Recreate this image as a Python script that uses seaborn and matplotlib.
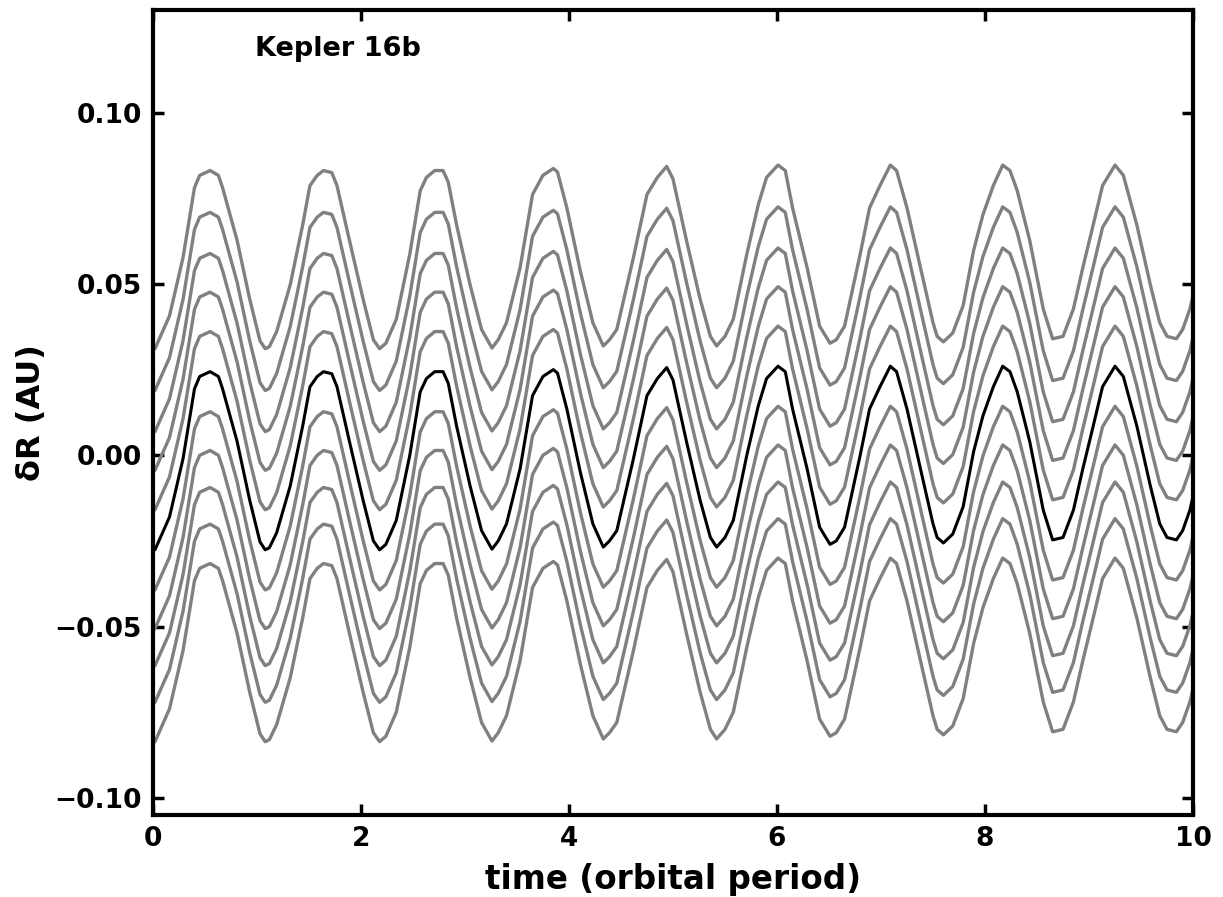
import numpy as np
import pandas as pd
import matplotlib
matplotlib.use("Agg")
import matplotlib.pyplot as plt
import seaborn as sns

# black curve (reference orbit)
t_ref = [0.00, 0.02, 0.16, 0.29, 0.40, 0.45, 0.55, 0.63, 0.67, 0.81, 0.93, 1.03, 1.08, 1.12,
         1.19, 1.32, 1.44, 1.51, 1.58, 1.64, 1.72, 1.77, 1.89, 2.02, 2.12, 2.18, 2.24, 2.34,
         2.47, 2.57, 2.63, 2.71, 2.79, 2.84, 2.92, 3.05, 3.16, 3.26, 3.32, 3.40, 3.53, 3.65,
         3.75, 3.85, 3.89, 3.98, 4.11, 4.23, 4.33, 4.39, 4.46, 4.62, 4.75, 4.85, 4.94, 5.00,
         5.13, 5.26, 5.36, 5.42, 5.50, 5.58, 5.71, 5.82, 5.90, 6.01, 6.08, 6.15, 6.29, 6.41,
         6.51, 6.57, 6.65, 6.80, 6.89, 6.99, 7.09, 7.15, 7.25, 7.38, 7.50, 7.54, 7.60, 7.69,
         7.79, 7.89, 7.98, 8.08, 8.17, 8.24, 8.31, 8.43, 8.56, 8.65, 8.75, 8.85, 8.94, 9.04,
         9.13, 9.25, 9.33, 9.46, 9.59, 9.68, 9.75, 9.84, 9.90, 9.97, 10.00]
dr_ref = [-0.0278, -0.0276, -0.0180, -0.0010, 0.0194, 0.0230, 0.0244, 0.0230, 0.0194, 0.0040,
          -0.0130, -0.0253, -0.0276, -0.0270, -0.0226, -0.0090, 0.0085, 0.0200, 0.0230, 0.0244,
          0.0238, 0.0200, 0.0040, -0.0130, -0.0250, -0.0276, -0.0260, -0.0190, 0.0000, 0.0185,
          0.0224, 0.0244, 0.0244, 0.0210, 0.0085, -0.0090, -0.0220, -0.0274, -0.0250, -0.0200,
          -0.0040, 0.0174, 0.0230, 0.0250, 0.0240, 0.0135, -0.0050, -0.0200, -0.0268, -0.0250,
          -0.0220, -0.0010, 0.0174, 0.0224, 0.0256, 0.0220, 0.0040, -0.0130, -0.0240, -0.0268,
          -0.0240, -0.0190, 0.0000, 0.0144, 0.0224, 0.0260, 0.0244, 0.0135, -0.0040, -0.0210,
          -0.0260, -0.0250, -0.0210, 0.0000, 0.0135, 0.0200, 0.0260, 0.0244, 0.0135, -0.0040,
          -0.0200, -0.0240, -0.0256, -0.0230, -0.0150, 0.0010, 0.0115, 0.0200, 0.0260, 0.0244,
          0.0185, 0.0040, -0.0160, -0.0247, -0.0240, -0.0160, -0.0040, 0.0085, 0.0200, 0.0260,
          0.0230, 0.0085, -0.0090, -0.0200, -0.0240, -0.0247, -0.0220, -0.0160, -0.0120]

# vertical offsets of the grey neighbouring orbits relative to the black one
offsets = [0.0587, 0.0465, 0.0345, 0.0232, 0.0117,
           -0.0117, -0.0230, -0.0338, -0.0445, -0.0560]

sns.set_theme(style="ticks")
plt.rcParams["font.family"] = ["DejaVu Sans"]
plt.rcParams["font.weight"] = "bold"
plt.rcParams["axes.labelweight"] = "bold"
plt.rcParams["text.color"] = "black"
plt.rcParams["axes.labelcolor"] = "black"
plt.rcParams["xtick.color"] = "black"
plt.rcParams["ytick.color"] = "black"

fig = plt.figure(figsize=(12.23, 8.97), dpi=100)
ax = fig.add_axes([0.125, 0.0914, 0.8505, 0.8976])

t = np.array(t_ref)
dr = np.array(dr_ref)
for off in offsets:
    sns.lineplot(x=t, y=dr + off, color="#808080", linewidth=2.4, ax=ax)
sns.lineplot(x=t, y=dr, color="black", linewidth=2.2, ax=ax)

ax.set_xlim(0, 10)
ax.set_ylim(-0.105, 0.13)
ax.set_xticks([0, 2, 4, 6, 8, 10])
ax.set_yticks([-0.10, -0.05, 0.00, 0.05, 0.10])
ax.set_yticklabels(["\u22120.10", "\u22120.05", "0.00", "0.05", "0.10"])
ax.tick_params(direction="in", length=8, width=2.5, top=True, right=True,
               labelsize=19, pad=8, colors="black")
for lab in ax.get_xticklabels() + ax.get_yticklabels():
    lab.set_fontweight("bold")
for sp in ax.spines.values():
    sp.set_linewidth(3)
    sp.set_color("black")

ax.set_xlabel("time (orbital period)", fontsize=23.5, fontweight="bold", labelpad=8)
ax.set_ylabel("\u03b4R (AU)", fontsize=23, fontweight="bold", labelpad=5)
ax.text(0.98, 0.1185, "Kepler 16b", fontsize=19.5, fontweight="bold", va="center",
        color="black")

fig.savefig("out.png", dpi=100)
